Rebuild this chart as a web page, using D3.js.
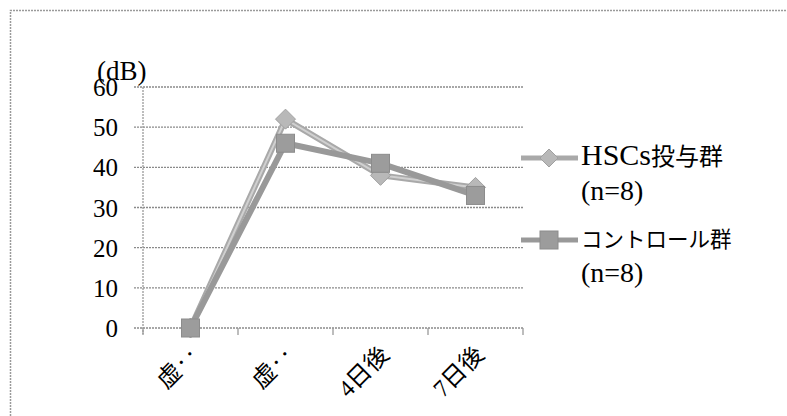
<!DOCTYPE html>
<html><head><meta charset="utf-8">
<script src="https://cdn.jsdelivr.net/npm/d3@7"></script>
<style>html,body{margin:0;padding:0;background:#fff;}svg{display:block;}</style>
</head><body>
<svg id="c" width="787" height="416"></svg>
<script>
const categories = ["虚‥", "虚‥", "4日後", "7日後"];
const hscValues = [0, 52, 38, 35];
const controlValues = [0, 46, 41, 33];
const yTicks = [0, 10, 20, 30, 40, 50, 60];
const seriesLatin = ["HSCs", ""];
const seriesCJK = ["投与群", "コントロール群"];
const seriesSub = ["(n=8)", "(n=8)"];
const yUnit = "(dB)";

const svg = d3.select("#c");
const serif = "'Liberation Serif', 'Noto Sans CJK JP', serif";
const cjk = "'Noto Sans CJK JP', sans-serif";

// outer frame
svg.append("path").attr("d", "M10.5,416 L10.5,10.5 L787,10.5")
  .attr("fill", "none").attr("stroke", "#9a9a9a").attr("stroke-width", 1.5)
  .attr("stroke-dasharray", "2,1");

const x = d3.scaleBand().domain(d3.range(categories.length)).range([143, 523]);
const y = d3.scaleLinear().domain([0, 60]).range([328, 87]);

// gridlines
const g = svg.append("g");
g.selectAll("line.grid").data(yTicks).join("line")
  .attr("x1", 134).attr("x2", 523)
  .attr("y1", d => y(d)).attr("y2", d => y(d))
  .attr("stroke", "#8a8a8a").attr("stroke-width", 1.3).attr("stroke-dasharray", "2,1");

// y axis line
g.append("line").attr("x1", 143).attr("x2", 143).attr("y1", y(60)).attr("y2", y(0) + 6)
  .attr("stroke", "#9a9a9a").attr("stroke-width", 1.3).attr("stroke-dasharray", "2,1");

// x ticks
const xt = d3.range(categories.length + 1).map(i => 143 + i * x.step());
g.selectAll("line.xt").data(xt).join("line")
  .attr("x1", d => d).attr("x2", d => d).attr("y1", y(0)).attr("y2", y(0) + 7)
  .attr("stroke", "#9a9a9a").attr("stroke-width", 1.3);

// y labels
g.selectAll("text.yl").data(yTicks).join("text")
  .attr("x", 118).attr("y", d => y(d) + 9)
  .attr("text-anchor", "end").attr("font-family", serif).attr("font-size", 25)
  .attr("fill", "#000").text(d => d);

svg.append("text").attr("x", 97).attr("y", 80).attr("font-family", serif)
  .attr("font-size", 27).attr("fill", "#000").text(yUnit);

// x labels
categories.forEach((c, i) => {
  const cx = x(i) + x.bandwidth() / 2 + 10;
  svg.append("text").attr("transform", `translate(${cx},356) rotate(-45)`)
    .attr("text-anchor", "end").attr("font-family", serif).attr("font-size", 24)
    .attr("fill", "#000").text(c);
});

const cxp = i => x(i) + x.bandwidth() / 2;
const line = d3.line().x((d, i) => cxp(i)).y(d => y(d));

// HSCs series
svg.append("path").attr("d", line(hscValues)).attr("fill", "none")
  .attr("stroke", "#a9a9a9").attr("stroke-width", 6).attr("stroke-linejoin", "round");
svg.append("path").attr("d", line(hscValues)).attr("fill", "none")
  .attr("stroke", "#d0d0d0").attr("stroke-width", 2).attr("stroke-linejoin", "round");
// control series
svg.append("path").attr("d", line(controlValues)).attr("fill", "none")
  .attr("stroke", "#999").attr("stroke-width", 6).attr("stroke-linejoin", "round");

const diamond = (cx, cy, w, h) => `M${cx},${cy - h} L${cx + w},${cy} L${cx},${cy + h} L${cx - w},${cy} Z`;
svg.selectAll("path.dm").data(hscValues).join("path")
  .attr("d", (d, i) => diamond(cxp(i), y(d), 10, 10))
  .attr("fill", "#b8b8b8").attr("stroke", "#a0a0a0").attr("stroke-width", 1);
svg.selectAll("rect.sq").data(controlValues).join("rect")
  .attr("x", (d, i) => cxp(i) - 9).attr("y", d => y(d) - 9)
  .attr("width", 18).attr("height", 18)
  .attr("fill", "#9c9c9c").attr("stroke", "#8c8c8c").attr("stroke-width", 1);

// legend
const legY = [158, 240];
seriesCJK.forEach((n, i) => {
  const ly = legY[i];
  svg.append("line").attr("x1", 521).attr("x2", 578).attr("y1", ly).attr("y2", ly)
    .attr("stroke", i === 0 ? "#a9a9a9" : "#999").attr("stroke-width", 5);
  if (i === 0) {
    svg.append("path").attr("d", diamond(549, ly, 9, 9)).attr("fill", "#b8b8b8").attr("stroke", "#a0a0a0");
  } else {
    svg.append("rect").attr("x", 540).attr("y", ly - 9).attr("width", 18).attr("height", 18)
      .attr("fill", "#9c9c9c").attr("stroke", "#8c8c8c");
  }
  const t = svg.append("text").attr("x", 581).attr("y", ly + 7).attr("fill", "#000");
  if (seriesLatin[i]) t.append("tspan").attr("font-family", serif).attr("font-size", 30).text(seriesLatin[i]);
  t.append("tspan").attr("font-family", cjk).attr("font-size", i === 0 ? 24 : 21.5).text(n);
  svg.append("text").attr("x", 581).attr("y", ly + 42).attr("font-family", serif)
    .attr("font-size", 28).attr("fill", "#000").text(seriesSub[i]);
});
</script>
</body></html>
